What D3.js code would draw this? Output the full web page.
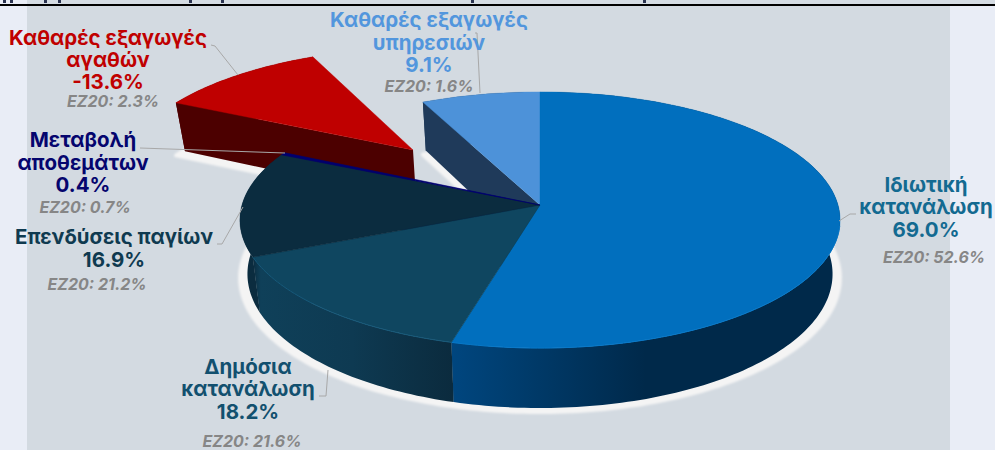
<!DOCTYPE html>
<html>
<head>
<meta charset="utf-8">
<script src="https://cdn.jsdelivr.net/npm/d3@7"></script>
<style>
html, body { margin: 0; padding: 0; background: #e9edf6; overflow: hidden; }
svg { display: block; }
text { font-family: Inter, "Noto Sans", sans-serif; text-anchor: middle; }
</style>
</head>
<body>
<svg id="chart"></svg>
<script>
const W = 995
const H = 450

// data, clockwise from 12 o'clock
const categories = ['Ιδιωτική κατανάλωση', 'Δημόσια κατανάλωση', 'Επενδύσεις παγίων', 'Μεταβολή αποθεμάτων', 'Καθαρές εξαγωγές αγαθών', 'Καθαρές εξαγωγές υπηρεσιών']
const values = [69.0, 18.2, 16.9, 0.4, -13.6, 9.1]
const ez20 = [52.6, 21.6, 21.2, 0.7, 2.3, 1.6]

const nameLines = [
    ['Ιδιωτική', 'κατανάλωση'],
    ['Δημόσια', 'κατανάλωση'],
    ['Επενδύσεις παγίων'],
    ['Μεταβολή', 'αποθεμάτων'],
    ['Καθαρές εξαγωγές', 'αγαθών'],
    ['Καθαρές εξαγωγές', 'υπηρεσιών']
]

const topColors = ['#016fbe', '#0f4660', '#0b2c3f', '#00006e', '#bf0000', '#4d92d9']
const sideStops = [
    [['#00467f', 0], ['#003e70', 0.14], ['#00294a', 0.5], ['#00294a', 1]],
    [['#0b2c3f', 0], ['#0f4059', 0.04], ['#0e3a52', 0.5], ['#0b2b3e', 1]],
    [['#0b2c3f', 0], ['#0b2c3f', 1]],
    [['#00006e', 0], ['#00006e', 1]],
    [['#4c0000', 0], ['#4c0000', 1]],
    [['#1f3a5a', 0], ['#1f3a5a', 1]]
]
const rimColors = ['#0878c8', '#17597a', null, null, null, null]
const labelColors = ['#136a91', '#12506f', '#0f3a50', '#05056e', '#c00000', '#5296dd']

// plane offset of the pulled out slice
const explode = [[0, 0], [0, 0], [0, 0], [0, 0], [-0.449, -0.459], [0, 0]]

// label layout: centre x, then baselines of the name lines, value and EZ20 row
const labelX = [926, 248, 114, 83, 108, 429]
const ezX = [934, 252, 97, 85, 113, 429]
const nameY = [[192, 214], [374, 396], [244], [147, 170], [45, 67], [27, 50]]
const valueY = [237, 419, 267, 192, 89, 72]
const ezY = [263, 447, 290, 213, 107, 92]
const leaders = [
    [[856, 214], [850, 214], [839, 221]],
    [[319, 396], [326, 396], [328, 370]],
    [[217, 244], [222, 244], [243, 207]],
    [[140, 148], [285, 153]],
    [[211, 45], [215, 46], [238, 75]],
    [[475, 33], [477, 33], [480, 93]]
]

// cut off title line above the rule, only the descenders show
const titleMarks = [3, 10, 44, 58, 189, 221, 471, 643]

// perspective of the pie plane
const cx = 540
const cy = 205
const bx = 298
const by = 126.3
const k = 0.117

function project(angle, r, off) {
    const X = r * Math.sin(angle) + off[0]
    const Y = -r * Math.cos(angle) + off[1]
    const d = 1 - k * Y
    return [cx + bx * X / d, cy + by * Y / d]
}

const depth = d3.scaleLinear().domain([92, 348]).range([48, 60])
function drop(p) {
    return [p[0] - (p[0] - cx) * 0.025, p[1] + depth(p[1])]
}

const pie = d3.pie().sort(null).value(d => Math.abs(d))
const slices = pie(values)
const line = d3.line()

function rim(s, off) {
    const n = Math.max(2, Math.ceil((s.endAngle - s.startAngle) / 0.02))
    return d3.range(n + 1).map(i => project(s.startAngle + (s.endAngle - s.startAngle) * i / n, 1, off))
}

const svg = d3.select('#chart').attr('width', W).attr('height', H)
const defs = svg.append('defs')

defs.append('filter').attr('id', 'soft')
    .attr('x', '-10%').attr('y', '-10%').attr('width', '120%').attr('height', '120%')
    .append('feGaussianBlur').attr('stdDeviation', 0.9)

sideStops.forEach((stops, i) => {
    const pts = rim(slices[i], explode[i])
    const g = defs.append('linearGradient')
        .attr('id', 'side' + i)
        .attr('gradientUnits', 'userSpaceOnUse')
        .attr('x1', d3.min(pts, p => p[0])).attr('x2', d3.max(pts, p => p[0]))
        .attr('y1', 0).attr('y2', 0)
    stops.forEach(s => g.append('stop').attr('offset', s[1]).attr('stop-color', s[0]))
})

// background
svg.append('rect').attr('width', W).attr('height', H).attr('fill', '#e9edf6')
svg.append('rect').attr('x', 27).attr('width', 923).attr('height', H).attr('fill', '#d3dae1')
svg.append('rect').attr('y', 0).attr('width', W).attr('height', 4).attr('fill', '#d5dce3')
svg.append('rect').attr('width', 27).attr('height', 4).attr('fill', '#e9edf6')
svg.append('g').selectAll('rect').data(titleMarks).join('rect')
    .attr('x', d => d).attr('y', 0).attr('width', 3).attr('height', 3).attr('fill', '#2b3350')
svg.append('rect').attr('y', 4).attr('width', W).attr('height', 2).attr('fill', '#000')

// white shadow under the bottom edge
const shadow = svg.append('g').attr('filter', 'url(#soft)')
slices.forEach((s, i) => {
    const off = explode[i]
    const apex = project(0, 0, off)
    const pts = [drop(apex)].concat(rim(s, off).map(drop))
        .map(p => [cx + (p[0] - cx) * 1.025, p[1] + 4])
    shadow.append('path')
        .attr('d', line(pts) + 'Z')
        .attr('fill', '#f4f4f4')
        .attr('stroke', '#f4f4f4')
        .attr('stroke-width', 4)
        .attr('stroke-linejoin', 'round')
})

function drawWalls(i) {
    const s = slices[i]
    const off = explode[i]
    const top = rim(s, off)
    const bottom = top.map(drop)
    const apex = project(0, 0, off)
    // cut face on the start side of the slice
    const a = top[0]
    svg.append('path')
        .attr('d', line([apex, a, drop(a), drop(apex)]) + 'Z')
        .attr('fill', sideStops[i][0][0])
    svg.append('path')
        .attr('d', line(top.concat(bottom.slice().reverse())) + 'Z')
        .attr('fill', 'url(#side' + i + ')')
}

function drawTop(i) {
    const s = slices[i]
    const off = explode[i]
    const top = rim(s, off)
    const apex = project(0, 0, off)
    svg.append('path')
        .attr('d', line([apex].concat(top)) + 'Z')
        .attr('fill', topColors[i])
        .attr('stroke', topColors[i])
        .attr('stroke-width', i === 3 ? 0.6 : 0.4)
    if (rimColors[i]) {
        svg.append('path')
            .attr('d', line(top.filter(p => p[1] > cy + 20)))
            .attr('fill', 'none')
            .attr('stroke', rimColors[i])
            .attr('stroke-width', 1)
    }
}

// back to front
drawWalls(4)
drawTop(4)
drawWalls(5)
drawTop(5)
;[3, 2, 1, 0].forEach(drawWalls)
;[0, 1, 2, 3].forEach(drawTop)

// leader lines
svg.append('g').selectAll('path').data(leaders).join('path')
    .attr('d', d => line(d))
    .attr('fill', 'none')
    .attr('stroke', '#a8a8a8')
    .attr('stroke-width', 1)

// labels
const pct = d3.format('.1f')
const fmt = v => pct(v).replace('\u2212', '-') + '%'
slices.forEach((s, i) => {
    nameLines[i].forEach((t, j) => {
        svg.append('text')
            .attr('x', labelX[i]).attr('y', nameY[i][j])
            .attr('fill', labelColors[i])
            .attr('font-size', 20.5).attr('font-weight', 700)
            .text(t)
    })
    svg.append('text')
        .attr('x', labelX[i]).attr('y', valueY[i])
        .attr('fill', labelColors[i])
        .attr('font-size', 20.5).attr('font-weight', 700)
        .text(fmt(values[i]))
    svg.append('text')
        .attr('x', ezX[i]).attr('y', ezY[i])
        .attr('fill', '#868686')
        .attr('font-size', 16).attr('font-weight', 700).attr('font-style', 'italic')
        .text('EZ20: ' + fmt(ez20[i]))
})
</script>
</body>
</html>
